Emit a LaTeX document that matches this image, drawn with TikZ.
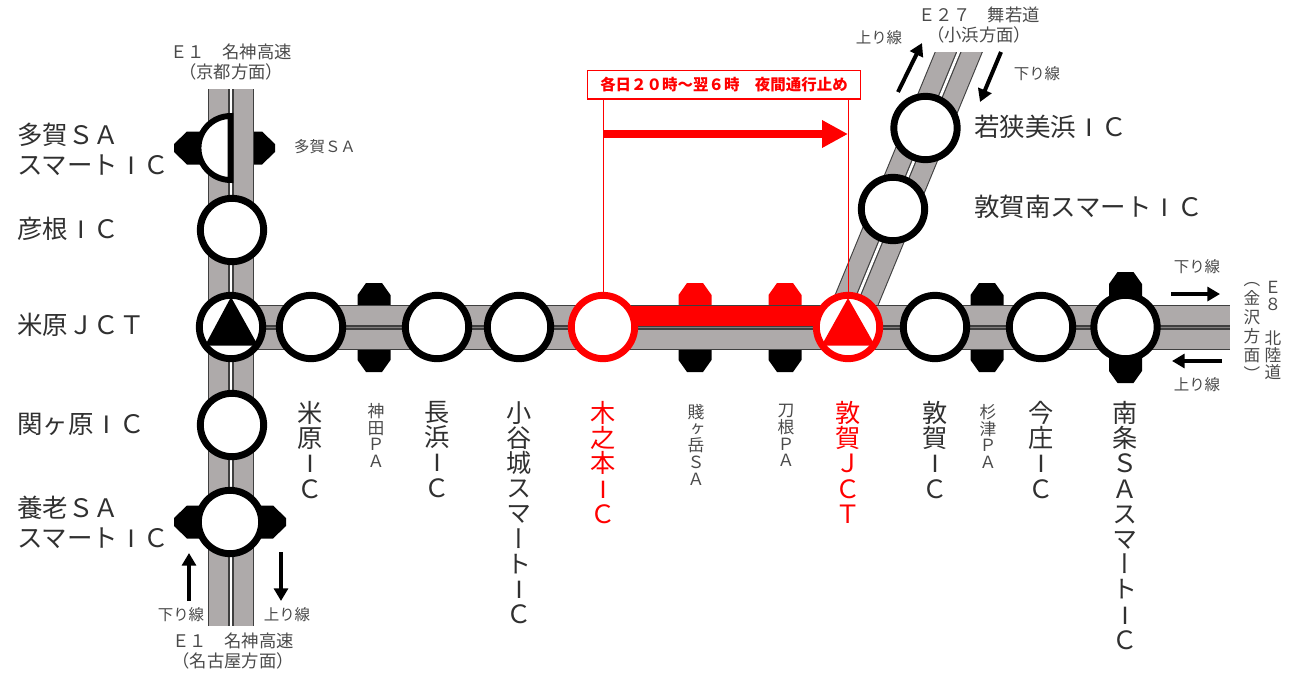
\documentclass[tikz,border=0pt]{standalone}
\usepackage{fontspec}
\usetikzlibrary{arrows.meta}
\setmainfont{Noto Sans CJK JP}
\newfontfamily\cjkv[RawFeature=+vert]{Noto Sans CJK JP}
\newfontfamily\latf{Liberation Sans}
\newcommand{\FI}{\makebox[1em]{\latf I}}
\definecolor{roadgrey}{HTML}{AEAAAA}
\definecolor{edgegrey}{HTML}{3F3F3F}
\definecolor{txt}{HTML}{303030}
\definecolor{txtsmall}{HTML}{4A4A4A}
\newcommand{\fsz}[2]{\fontsize{#1}{#2}\selectfont\lineskip=0pt\lineskiplimit=-30pt}
\tikzset{
  x=0.75pt,y=-0.75pt,
  road/.style={draw=edgegrey,line cap=butt},
  roadfill/.style={draw=roadgrey,line cap=butt},
  ring/.style={circle,draw=black,fill=white,line width=5.2pt,minimum size=47.5pt,inner sep=0pt},
  redring/.style={ring,draw=red},
  big/.style={inner sep=0pt,anchor=west,text=txt,font=\fsz{19.1}{22.3},align=left},
  bigv/.style={inner sep=0pt,anchor=north,text=txt,font={\fsz{18.9}{18.9}\cjkv},align=center},
  redv/.style={bigv,text=red},
  smallv/.style={inner sep=0pt,anchor=north,text=txtsmall,font={\fsz{12.6}{12.6}\cjkv},align=center},
  small/.style={inner sep=0pt,text=txtsmall,font=\fsz{13}{15.5},align=center},
  tiny/.style={inner sep=0pt,text=txtsmall,font=\fsz{11.6}{11.6},align=center},
  flow/.style={line width=3pt,draw=black,-{Triangle[length=9.5pt,width=10.5pt]}},
}
\newcommand{\vtab}[4][black]{% colour, x, tip y, base y
  \fill[#1] (#2-16.5,#4) -- (#2-16.5,{#3+(#4-#3)/abs(#4-#3)*12}) -- (#2-8,#3) -- (#2+8,#3) -- (#2+16.5,{#3+(#4-#3)/abs(#4-#3)*12}) -- (#2+16.5,#4) -- cycle;}
\newcommand{\htab}[3]{% tip x, base x, centre y
  \fill[black] (#2,#3-16.5) -- ({#1+(#2-#1)/abs(#2-#1)*13},#3-16.5) -- (#1,#3-4) -- (#1,#3+4) -- ({#1+(#2-#1)/abs(#2-#1)*13},#3+16.5) -- (#2,#3+16.5) -- cycle;}
\begin{document}
\begin{tikzpicture}
\useasboundingbox (0,0) rectangle (1299,683);
% road end points
\coordinate (vtop) at (231,89);
\coordinate (vbot) at (231,626);
\coordinate (hleft) at (231,327.5);
\coordinate (hright) at (1230,327.5);
\coordinate (dtop) at (967,32);
\coordinate (dbot) at (850,316);
% tabs
\htab{174}{210}{148}
\htab{275}{235}{148}
\htab{174}{210}{522}
\htab{286}{250}{522}
\vtab{374}{283}{310}
\vtab{374}{372}{345}
\vtab[red]{695}{283}{310}
\vtab{695}{372}{345}
\vtab[red]{785}{283}{310}
\vtab{785}{372}{345}
\vtab{987}{283}{310}
\vtab{987}{372}{345}
\vtab{1125.5}{272}{300}
\vtab{1125.5}{383}{355}
% vertical road
\draw[road,line width=35.2pt] (vtop) -- (vbot);
\draw[roadfill,line width=33.4pt] (vtop) -- (vbot);
\draw[edgegrey,line width=4.2pt] (vtop) -- (vbot);
\draw[white,line width=2.2pt] (vtop) -- (vbot);
% diagonal road
\begin{scope}
\clip (800,52) rectangle (1010,320);
\draw[road,line width=33.4pt] (dtop) -- (dbot);
\draw[roadfill,line width=31.8pt] (dtop) -- (dbot);
\draw[edgegrey,line width=3.8pt] (dtop) -- (dbot);
\draw[white,line width=2pt] (dtop) -- (dbot);
\end{scope}
% horizontal road
\draw[road,line width=33.5pt] (hleft) -- (hright);
\draw[roadfill,line width=31.7pt] (hleft) -- (hright);
\draw[edgegrey,line width=3.2pt] (hleft) -- (hright);
\draw[roadgrey!60!edgegrey,line width=1pt] (hleft) -- (hright);
% closure
\coordinate (barL) at (603,316);
\coordinate (barR) at (848,316);
\draw[red,line width=15pt] (barL) -- (barR);
% interchange rings
\node[ring] (hikone) at (232,230) {};
\node[ring] (maibara) at (311,327) {};
\node[ring] (nagahama) at (437,327) {};
\node[ring] (odani) at (519,327) {};
\node[redring] (kinomoto) at (603,327) {};
\node[ring] (tsuruga) at (935,327) {};
\node[ring] (imajo) at (1041,327) {};
\node[ring] (nanjo) at (1125.5,327) {};
\node[ring] (sekigahara) at (232,425) {};
\node[ring] (yoro) at (230,522) {};
\node[ring] (wakasa) at (925.5,128) {};
\node[ring] (tsurugas) at (893,209) {};
\node[ring] (mjct) at (231,327) {};
\node[redring] (tjct) at (848,327) {};
\fill[black] (231,297) -- (258,345.5) -- (205,345.5) -- cycle;
\fill[red] (848,298) -- (875,345.5) -- (821.5,345.5) -- cycle;
% half circle Taga
\filldraw[fill=white,draw=black,line width=4.4pt,line join=miter] (230.5,116) arc[start angle=-90,end angle=-270,radius=32] -- cycle;
% closure annotation
\node[draw=red,fill=white,line width=1pt,minimum width=205pt,minimum height=21.5pt,inner sep=0pt,text=red,font={\fsz{11.6}{11.6}\bfseries}] (notice) at (724,84.5) {各日２０時～翌６時　夜間通行止め};
\coordinate (nL) at (603,99);
\coordinate (nR) at (848,99);
\draw[red,line width=.6pt] (nL) -- (kinomoto.north);
\draw[red,line width=.6pt] (nR) -- (tjct.north);
\coordinate (ar1) at (604,134);
\coordinate (ar2) at (848,134);
\draw[red,line width=6.2pt,-{Triangle[length=19.5pt,width=19.5pt]}] (ar1) -- (ar2);
% flow arrows
\coordinate (f1a) at (898,92); \coordinate (f1b) at (922,43);
\coordinate (f2a) at (1001,52); \coordinate (f2b) at (980,102);
\coordinate (f3a) at (1171,294); \coordinate (f3b) at (1220,294);
\coordinate (f4a) at (1222,361); \coordinate (f4b) at (1172,361);
\coordinate (f5a) at (189,601); \coordinate (f5b) at (189,553);
\coordinate (f6a) at (281,552); \coordinate (f6b) at (281,601);
\draw[flow] (f1a) -- (f1b);
\draw[flow] (f2a) -- (f2b);
\draw[flow] (f3a) -- (f3b);
\draw[flow] (f4a) -- (f4b);
\draw[flow] (f5a) -- (f5b);
\draw[flow] (f6a) -- (f6b);
% big left labels
\node[big] (lTaga) at (17,149) {多賀ＳＡ\\スマート\FI Ｃ};
\node[big] (lHikone) at (17,229) {彦根\FI Ｃ};
\node[big] (lMjct) at (17,325) {米原ＪＣＴ};
\node[big] (lSeki) at (17,424) {関ヶ原\FI Ｃ};
\node[big] (lYoro) at (17,522) {養老ＳＡ\\スマート\FI Ｃ};
\node[big] (lWakasa) at (974,127) {若狭美浜\FI Ｃ};
\node[big] (lTsurS) at (974,207) {敦賀南スマート\FI Ｃ};
% vertical labels
\node[bigv] (vMaibara) at (310,401) {米\\原\\\FI\\Ｃ};
\node[smallv] (vKanda) at (376,403) {神\\田\\Ｐ\\Ａ};
\node[bigv] (vNaga) at (437,401) {長\\浜\\\FI\\Ｃ};
\node[bigv] (vOdani) at (519,401) {小\\谷\\城\\ス\\マ\\ー\\ト\\\FI\\Ｃ};
\node[redv] (vKino) at (603,401) {木\\之\\本\\\FI\\Ｃ};
\node[smallv] (vShizu) at (696,404) {賤\\ヶ\\岳\\Ｓ\\Ａ};
\node[smallv] (vTone) at (786,404) {刀\\根\\Ｐ\\Ａ};
\node[redv] (vTjct) at (848,401) {敦\\賀\\Ｊ\\Ｃ\\Ｔ};
\node[bigv] (vTsu) at (935,401) {敦\\賀\\\FI\\Ｃ};
\node[smallv] (vSugi) at (988,404) {杉\\津\\Ｐ\\Ａ};
\node[bigv] (vIma) at (1041,401) {今\\庄\\\FI\\Ｃ};
\node[bigv] (vNanjo) at (1125,401) {南\\条\\Ｓ\\Ａ\\ス\\マ\\ー\\ト\\\FI\\Ｃ};
% small labels
\node[small] (tE1n) at (231,62) {Ｅ１　名神高速\\（京都方面）};
\node[small] (tE1s) at (233,651) {Ｅ１　名神高速\\（名古屋方面）};
\node[small] (tE27) at (979,25) {Ｅ２７　舞若道\\（小浜方面）};
\node[tiny] (tTaga) at (325,147) {多賀ＳＡ};
\node[tiny] (t1) at (879,38) {上り線};
\node[tiny] (t2) at (1037,74) {下り線};
\node[tiny] (t3) at (1197,267) {下り線};
\node[tiny] (t4) at (1197,385) {上り線};
\node[tiny] (t5) at (181,615) {下り線};
\node[tiny] (t6) at (287,615) {上り線};
\node[inner sep=0pt,anchor=north,text=txtsmall,font={\fsz{12.5}{12.8}\cjkv},align=center] (tE8) at (1273,281) {Ｅ\\８\\　\\北\\陸\\道};
\node[inner sep=0pt,anchor=north,text=txtsmall,font={\fsz{12.5}{14.2}\cjkv},align=center] (tKana) at (1252,282) {（\\金\\沢\\方\\面\\）};
\end{tikzpicture}
\end{document}
